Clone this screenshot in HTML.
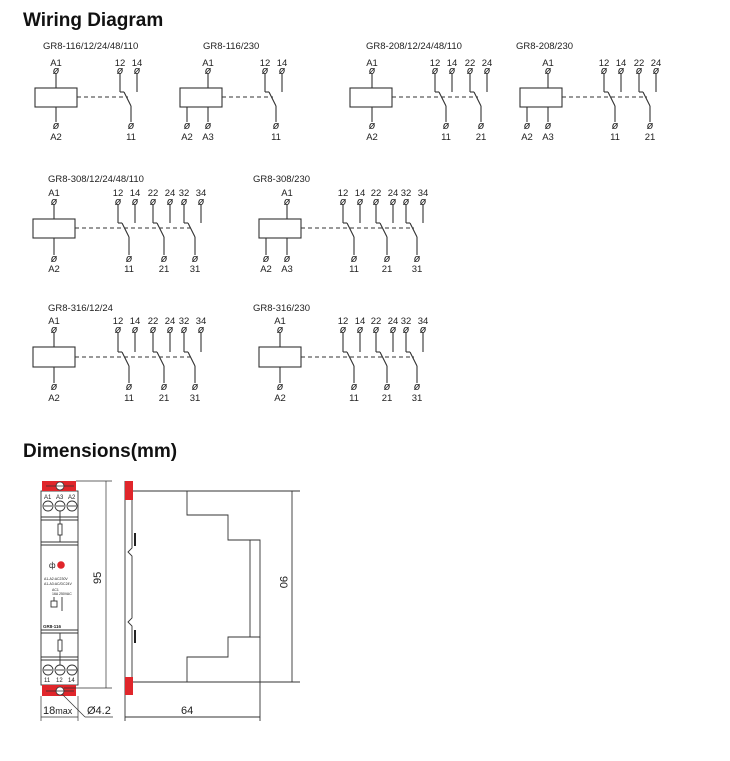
<!DOCTYPE html>
<html><head><meta charset="utf-8">
<style>
html,body{margin:0;padding:0;background:#fff;}
svg{display:block;font-family:"Liberation Sans",Arial,sans-serif;}
</style></head>
<body>
<svg id="s" width="730" height="761" viewBox="0 0 730 761" xmlns="http://www.w3.org/2000/svg">
<text x="23" y="26" font-size="19" font-weight="bold" fill="#111">Wiring Diagram</text>
<text x="23" y="457" font-size="19" font-weight="bold" fill="#111">Dimensions(mm)</text>
<g id="w" stroke="#333" stroke-width="1.1" fill="none"></g>
<g id="t" font-size="9.5" fill="#222"></g>

<!-- front view -->
<g stroke="#333" stroke-width="0.9" fill="none">
<rect x="41" y="491" width="37" height="194" fill="#fff"/>
<line x1="41" y1="517" x2="78" y2="517"/><line x1="41" y1="520" x2="78" y2="520"/>
<line x1="41" y1="542" x2="78" y2="542"/><line x1="41" y1="545" x2="78" y2="545"/>
<line x1="41" y1="630" x2="78" y2="630"/><line x1="41" y1="633" x2="78" y2="633"/>
<line x1="41" y1="657" x2="78" y2="657"/><line x1="41" y1="660" x2="78" y2="660"/>
<line x1="60" y1="511" x2="60" y2="542"/><rect x="58" y="524" width="4" height="11" fill="#fff"/>
<line x1="60" y1="633" x2="60" y2="665"/><rect x="58" y="640" width="4" height="11" fill="#fff"/>
<circle cx="48" cy="506" r="5"/><circle cx="60" cy="506" r="5"/><circle cx="72" cy="506" r="5"/>
<line x1="44" y1="506" x2="52" y2="506"/><line x1="56" y1="506" x2="64" y2="506"/><line x1="68" y1="506" x2="76" y2="506"/>
<circle cx="48" cy="670" r="5"/><circle cx="60" cy="670" r="5"/><circle cx="72" cy="670" r="5"/>
<line x1="44" y1="670" x2="52" y2="670"/><line x1="56" y1="670" x2="64" y2="670"/><line x1="68" y1="670" x2="76" y2="670"/>
<rect x="51" y="601" width="6" height="6"/><line x1="54" y1="597" x2="54" y2="601"/><line x1="62" y1="597" x2="62" y2="611"/>
</g>
<rect x="42" y="481" width="34" height="10" fill="#e0262b"/>
<rect x="42" y="685" width="34" height="11" fill="#e0262b"/>
<circle cx="60" cy="486" r="4" fill="#fff" stroke="#333" stroke-width="0.8"/>
<circle cx="60" cy="691" r="4" fill="#fff" stroke="#333" stroke-width="0.8"/>
<line x1="46" y1="486" x2="74" y2="486" stroke="#333" stroke-width="0.8"/>
<line x1="46" y1="691" x2="74" y2="691" stroke="#333" stroke-width="0.8"/>
<circle cx="61" cy="565" r="3.8" fill="#e0262b"/>
<text x="49" y="568" font-size="8" fill="#222">ф</text>
<g font-size="3.5" fill="#222">
<text x="44" y="580">A1-A2:AC230V</text><text x="44" y="585">A1-A3:AC/DC24V</text>
<text x="52" y="591">AC1</text><text x="52" y="595">16A 250VAC</text>
<text x="43" y="628" font-size="4.5" font-weight="bold">GR8-116</text>
</g>
<g font-size="6" fill="#222"><text x="44" y="499">A1</text><text x="56" y="499">A3</text><text x="68" y="499">A2</text>
<text x="44" y="682">11</text><text x="56" y="682">12</text><text x="68" y="682">14</text></g>

<g stroke="#333" stroke-width="0.7" fill="none">
<line x1="76" y1="481" x2="112" y2="481"/><line x1="64" y1="688" x2="112" y2="688"/>
<line x1="106" y1="481" x2="106" y2="688"/>
<line x1="41" y1="696" x2="41" y2="721"/><line x1="78" y1="696" x2="78" y2="721"/>
<line x1="41" y1="717" x2="78" y2="717"/>
<line x1="62" y1="694" x2="85" y2="717"/><line x1="85" y1="717" x2="113" y2="717"/>
</g>
<text x="43" y="714" font-size="11" fill="#222">18<tspan font-size="9">max</tspan></text>
<text x="87" y="714" font-size="11" fill="#222">Ø4.2</text>
<text transform="translate(101,584) rotate(-90)" font-size="11" fill="#222">95</text>

<g stroke="#333" stroke-width="0.9" fill="none">
<path d="M132 491 L145 491 L187 491 L187 515 L228 515 L228 540 L260 540 L260 637 L228 637 L228 657 L187 657 L187 682 L145 682 L132 682"/>
<line x1="250" y1="540" x2="250" y2="637"/>
<line x1="125" y1="481" x2="125" y2="696"/>
<path d="M132 500 L132 548 L128 552 L132 556 L132 618 L128 622 L132 626 L132 677"/>
<line x1="260" y1="637" x2="260" y2="721"/><line x1="125" y1="696" x2="125" y2="721"/>
<line x1="125" y1="717" x2="260" y2="717"/>
<line x1="145" y1="491" x2="300" y2="491"/><line x1="145" y1="682" x2="300" y2="682"/>
<line x1="292" y1="491" x2="292" y2="682"/>
</g>
<rect x="134" y="533" width="2" height="13" fill="#222"/>
<rect x="134" y="630" width="2" height="13" fill="#222"/>
<rect x="125" y="481" width="8" height="19" fill="#e0262b"/>
<rect x="125" y="677" width="8" height="18" fill="#e0262b"/>
<text x="181" y="714" font-size="11" fill="#222">64</text>
<text transform="translate(280,576) rotate(90)" font-size="11" fill="#222">90</text>
</svg>
<script>
var W=document.getElementById('w'),T=document.getElementById('t'),NS='http://www.w3.org/2000/svg';
function el(p,n,a,txt){var e=document.createElementNS(NS,n);for(var k in a)e.setAttribute(k,a[k]);if(txt)e.textContent=txt;p.appendChild(e);return e;}
function tx(x,y,s,anchor){el(T,'text',{x:x,y:y,'text-anchor':anchor||'middle'},s);}
function line(a,b,c,d,dash){var o={x1:a,y1:b,x2:c,y2:d};if(dash)o['stroke-dasharray']='4,3';el(W,'line',o);}
function pin(x,y){el(T,'text',{x:x,y:y+4,'text-anchor':'middle','font-size':'11','font-style':'italic'},'ø');}
function D(o){
 var r=o.r;tx(o.tx,r.title,o.title,'start');
 var bx=o.bx,bw=42;el(W,'rect',{x:bx,y:r.bt,width:bw,height:r.bb-r.bt});
 tx(o.a1,r.lab,'A1');pin(o.a1,r.pt);line(o.a1,r.pt+3,o.a1,r.bt);
 o.bot.forEach(function(p){line(p[0],r.bb,p[0],r.pb-3);pin(p[0],r.pb);tx(p[0],r.lb,p[1]);});
 var lastc=0;
 o.c.forEach(function(c,i){var x=c[0],n=c[1];
  tx(x,r.lab,n[0]);tx(x+17,r.lab,n[1]);pin(x,r.pt);pin(x+17,r.pt);
  line(x,r.pt+3,x,r.dy-5);line(x,r.dy-5,x+4,r.dy-5);line(x+4,r.dy-5,x+11,r.dy+9);line(x+11,r.dy+9,x+11,r.pb-3);
  line(x+17,r.pt+3,x+17,r.dy-5);
  pin(x+11,r.pb);tx(x+11,r.lb,n[2]);lastc=x;});
 line(bx+bw,r.dy,lastc+8,r.dy,true);
}
var R1={title:49,lab:66,pt:70,bt:88,bb:107,dy:97,pb:125,lb:140};
var R2={title:182,lab:196,pt:201,bt:219,bb:238,dy:228,pb:258,lb:272};
var R3={title:311,lab:324,pt:329,bt:347,bb:367,dy:357,pb:386,lb:401};
var c1=[['12','14','11']],c2=[['12','14','11'],['22','24','21']],c3=[['12','14','11'],['22','24','21'],['32','34','31']];
function cc(xs,names){return xs.map(function(x,i){return [x,names[i]];});}
D({r:R1,tx:43,title:'GR8-116/12/24/48/110',bx:35,a1:56,bot:[[56,'A2']],c:cc([120],c1)});
D({r:R1,tx:203,title:'GR8-116/230',bx:180,a1:208,bot:[[187,'A2'],[208,'A3']],c:cc([265],c1)});
D({r:R1,tx:366,title:'GR8-208/12/24/48/110',bx:350,a1:372,bot:[[372,'A2']],c:cc([435,470],c2)});
D({r:R1,tx:516,title:'GR8-208/230',bx:520,a1:548,bot:[[527,'A2'],[548,'A3']],c:cc([604,639],c2)});
D({r:R2,tx:48,title:'GR8-308/12/24/48/110',bx:33,a1:54,bot:[[54,'A2']],c:cc([118,153,184],c3)});
D({r:R2,tx:253,title:'GR8-308/230',bx:259,a1:287,bot:[[266,'A2'],[287,'A3']],c:cc([343,376,406],c3)});
D({r:R3,tx:48,title:'GR8-316/12/24',bx:33,a1:54,bot:[[54,'A2']],c:cc([118,153,184],c3)});
D({r:R3,tx:253,title:'GR8-316/230',bx:259,a1:280,bot:[[280,'A2']],c:cc([343,376,406],c3)});
</script>
</body></html>
